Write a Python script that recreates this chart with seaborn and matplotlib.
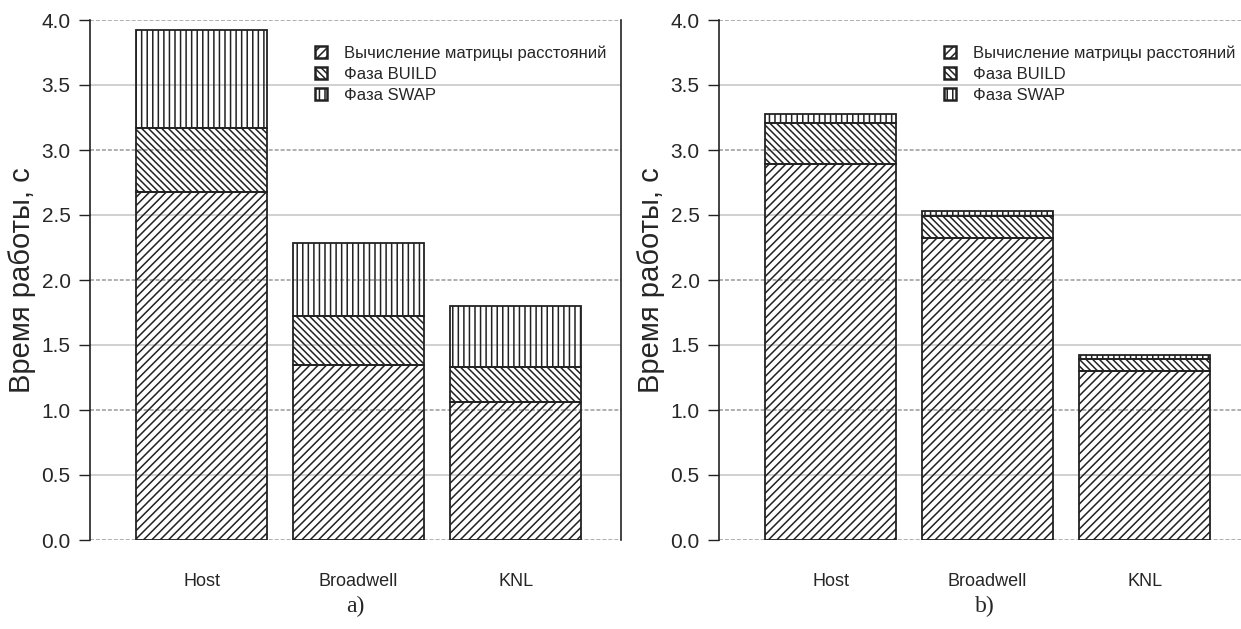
import matplotlib
matplotlib.use("Agg")
import matplotlib.pyplot as plt
import seaborn as sns
import numpy as np
from matplotlib.patches import Patch
from matplotlib.ticker import FixedLocator, FormatStrFormatter

sns.set_style("white")
plt.rcParams['font.family'] = ['Liberation Sans', 'DejaVu Sans']
plt.rcParams['hatch.linewidth'] = 1.1

# Platforms and run-time components (seconds)
platforms = ['Host', 'Broadwell', 'KNL']

# panel a)
dist_a = [2.68, 1.35, 1.06]
build_a = [0.49, 0.37, 0.27]
swap_a = [0.75, 0.565, 0.47]

# panel b)
dist_b = [2.89, 2.32, 1.30]
build_b = [0.32, 0.17, 0.09]
swap_b = [0.07, 0.04, 0.03]

labels = ['Вычисление матрицы расстояний', 'Фаза BUILD', 'Фаза SWAP']
hatches = ['////', '\\\\\\\\\\', '|||']
edge = '#222222'


def draw_panel(ax, dist, build, swap, letter, right_spine):
    bottoms = [np.zeros(3), np.array(dist), np.array(dist) + np.array(build)]
    for vals, bot, h in zip([dist, build, swap], bottoms, hatches):
        sns.barplot(x=platforms, y=vals, bottom=bot, order=platforms, width=0.834,
                    color='white', edgecolor=edge, linewidth=1.3, hatch=h, ax=ax)
    for p in ax.patches:
        p.set_facecolor('none')

    ax.set_ylim(0, 4.0)
    ax.set_xlim(-0.71, 2.67)
    ax.yaxis.set_major_locator(FixedLocator([0, 1, 2, 3, 4]))
    ax.yaxis.set_minor_locator(FixedLocator([0.5, 1.5, 2.5, 3.5]))
    ax.yaxis.set_major_formatter(FormatStrFormatter('%.1f'))
    ax.yaxis.set_minor_formatter(FormatStrFormatter('%.1f'))
    ax.grid(True, which='major', axis='y', color='#9a9a9a', linestyle=(0, (2.6, 1.3)), linewidth=1.1)
    ax.grid(True, which='minor', axis='y', color='#c4c4c4', linestyle='-', linewidth=1.1)
    ax.grid(False, axis='x')
    ax.set_axisbelow(True)

    ax.tick_params(axis='y', which='both', direction='out', length=8, width=1.0,
                   color=edge, labelsize=15, left=True, pad=6)
    ax.tick_params(axis='x', length=0, labelsize=13, pad=24)

    for s in ['top', 'bottom']:
        ax.spines[s].set_visible(False)
    ax.spines['left'].set_color(edge)
    ax.spines['left'].set_linewidth(1.2)
    ax.spines['right'].set_visible(right_spine)
    ax.spines['right'].set_color(edge)
    ax.spines['right'].set_linewidth(1.2)

    ax.set_ylabel('Время работы, с', fontsize=21, labelpad=4)
    ax.set_xlabel('')

    handles = [Patch(facecolor='none', edgecolor=edge, linewidth=1.8, hatch=h) for h in hatches]
    ax.legend(handles, labels, loc='upper right', bbox_to_anchor=(0.972, 0.951), frameon=False,
              fontsize=12, handlelength=0.7, handleheight=0.7, handletextpad=1.0,
              labelspacing=0.35, borderpad=0, borderaxespad=0)

    ax.text(0.5, -0.107, letter, transform=ax.transAxes, ha='center', va='top',
            fontsize=17, family='Liberation Serif')


fig = plt.figure(figsize=(12.41, 6.29), dpi=100)
ax1 = fig.add_axes([90 / 1241, 89 / 629, 531 / 1241, 520 / 629])
ax2 = fig.add_axes([719 / 1241, 89 / 629, 531 / 1241, 520 / 629])

draw_panel(ax1, dist_a, build_a, swap_a, 'a)', True)
draw_panel(ax2, dist_b, build_b, swap_b, 'b)', False)

fig.savefig('out.png', dpi=100)
